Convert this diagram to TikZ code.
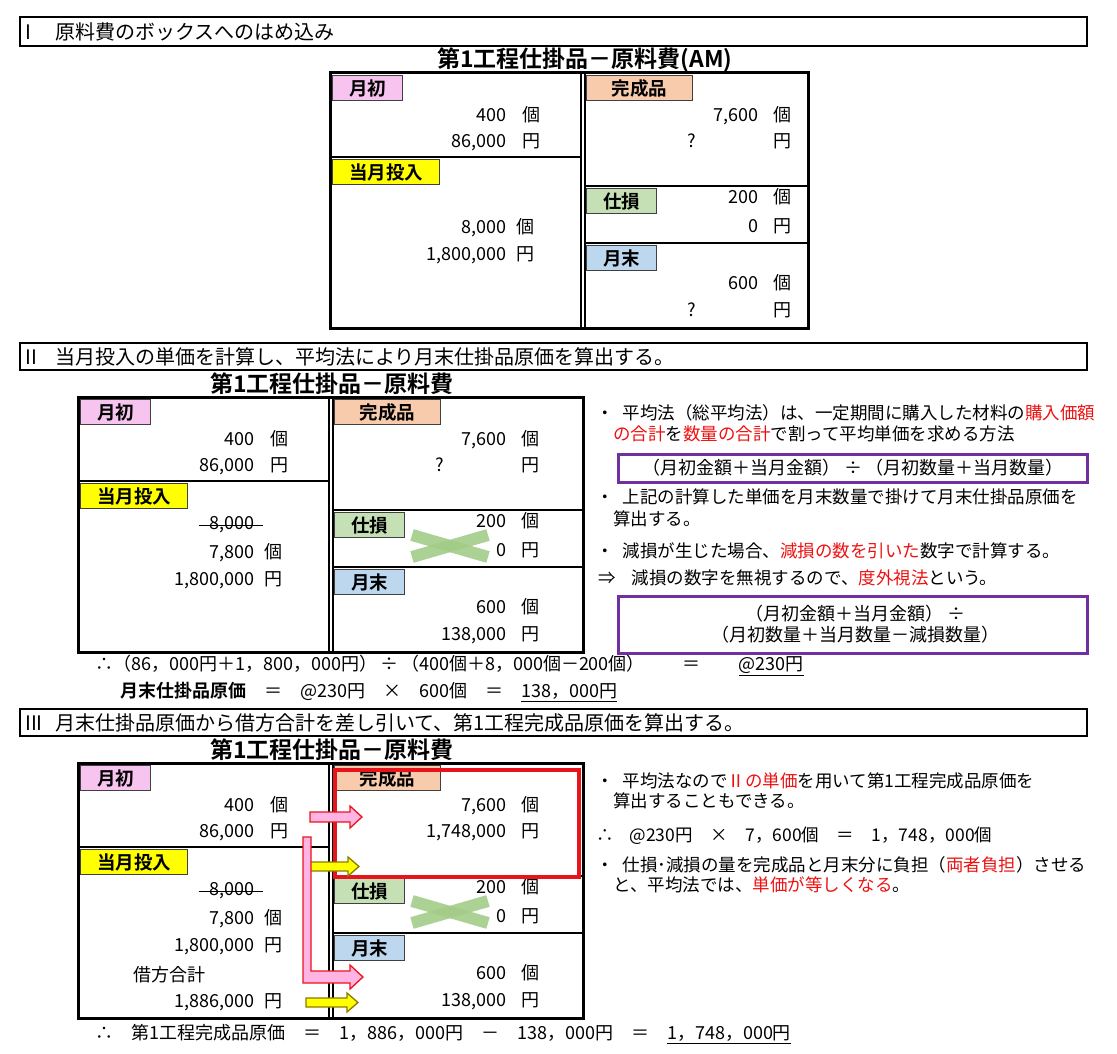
\documentclass[tikz,border=0pt]{standalone}
\usepackage{fontspec}
\setmainfont{Noto Sans CJK JP}[BoldFont={Noto Sans CJK JP Bold}]
\definecolor{tagpink}{HTML}{F7C4F0}
\definecolor{tagyellow}{HTML}{FFFF00}
\definecolor{tagpeach}{HTML}{F8CBAD}
\definecolor{taggreen}{HTML}{C5E0B4}
\definecolor{tagblue}{HTML}{BDD7EE}
\definecolor{hlred}{HTML}{EE1111}
\definecolor{rulepurple}{HTML}{7030A0}
\definecolor{lossgreen}{HTML}{A3CC88}
\definecolor{flowpink}{HTML}{FFB4E4}
\definecolor{flowred}{HTML}{E8141B}
\definecolor{flowolive}{HTML}{8C7A00}
\tikzset{
  frame/.style={line width=3pt},
  rule/.style={line width=1.3pt},
  tag/.style={rectangle,draw=black!75,line width=1pt,anchor=north west,
              minimum height=25pt,inner sep=0pt,
              font=\bfseries\fontsize{18.5}{18.5}\selectfont},
  num/.style={anchor=east,inner sep=0pt,text height=13pt,text depth=3.5pt,
              font=\fontsize{18}{18}\selectfont},
  unit/.style={num,anchor=west},
  qmark/.style={num,anchor=center},
  note/.style={anchor=west,inner sep=0pt,text height=13pt,text depth=3.5pt,
               font=\fontsize{17.5}{17.5}\selectfont},
  calc/.style={note,font=\fontsize{18}{18}\selectfont},
  headbar/.style={draw,line width=1.4pt},
  headtext/.style={anchor=west,inner sep=0pt,font=\fontsize{20}{20}\selectfont},
  boxtitle/.style={inner sep=0pt,font=\bfseries\fontsize{23}{23}\selectfont},
  rulebox/.style={draw=rulepurple,line width=3pt},
  ruletext/.style={inner sep=0pt,align=center,font=\fontsize{18}{21}\selectfont},
  lossmark/.style={draw=lossgreen,line width=12pt,opacity=0.9},
  strike/.style={line width=1pt},
  pinkflow/.style={fill=flowpink,draw=flowred,line width=1.3pt},
  yellowflow/.style={fill=tagyellow,draw=flowolive,line width=1.3pt},
  donebox/.style={draw=flowred,line width=4pt},
  pics/wipbox/.style={code={
    \draw[rule] (0,84) -- (251,84);
    \draw[rule] (255,113) -- (#1,113);
    \draw[rule] (255,170) -- (#1,170);
    \draw[rule] (251,0) -- (251,255);
    \draw[rule] (255,0) -- (255,255);
    \draw[frame] (0,0) rectangle (#1,255);
    \node[tag,fill=tagpink,minimum width=70pt]    (-beg) at (2,2)     {月初};
    \node[tag,fill=tagyellow,minimum width=107pt] (-inp) at (2,86)    {当月投入};
    \node[tag,fill=tagpeach,minimum width=106pt]  (-fin) at (256,2)   {完成品};
    \node[tag,fill=taggreen,minimum width=70pt]   (-spo) at (256,115) {仕損};
    \node[tag,fill=tagblue,minimum width=70pt]    (-end) at (256,172) {月末};
  }},
}

\begin{document}
\begin{tikzpicture}[x=1pt,y=-1pt]
  \useasboundingbox (0,0) rectangle (1117,1054);

  % I
  \draw[headbar] (20,17) rectangle (1087,46);
  \node[headtext] (sec1) at (25,31.5) {\makebox[30pt][l]{I}原料費のボックスへのはめ込み};
  \node[boxtitle] (title1) at (585,60) {第1工程仕掛品－原料費(AM)};

  \pic (b1) at (330,73) {wipbox=478};
  \begin{scope}[shift={(330,73)}]
    \node[num]   (b1-q1) at (177,44)  {400};
    \node[unit]  (b1-k1) at (192,44)  {個};
    \node[num]   (b1-a1) at (177,70)  {86,000};
    \node[unit]  (b1-y1) at (192,70)  {円};
    \node[num]   (b1-q2) at (177,156) {8,000};
    \node[unit]  (b1-k2) at (186,156) {個};
    \node[num]   (b1-a2) at (177,183) {1,800,000};
    \node[unit]  (b1-y2) at (186,183) {円};
    \node[num]   (b1-q3) at (429,44)  {7,600};
    \node[unit]  (b1-k3) at (443,44)  {個};
    \node[qmark] (b1-a3) at (362,70)  {?};
    \node[unit]  (b1-y3) at (443,70)  {円};
    \node[num]   (b1-q4) at (429,126) {200};
    \node[unit]  (b1-k4) at (443,126) {個};
    \node[num]   (b1-a4) at (429,155) {0};
    \node[unit]  (b1-y4) at (443,155) {円};
    \node[num]   (b1-q5) at (429,212) {600};
    \node[unit]  (b1-k5) at (443,212) {個};
    \node[qmark] (b1-a5) at (362,239) {?};
    \node[unit]  (b1-y5) at (443,239) {円};
  \end{scope}

  % II
  \draw[headbar] (20,343) rectangle (1087,370);
  \node[headtext] (sec2) at (25,356.5) {\makebox[30pt][l]{II}当月投入の単価を計算し、平均法により月末仕掛品原価を算出する。};
  \node[boxtitle] (title2) at (332,384) {第1工程仕掛品－原料費};

  \pic (b2) at (78,397) {wipbox=505};
  \begin{scope}[shift={(78,397)}]
    \node[num]   (b2-q1) at (177,44)  {400};
    \node[unit]  (b2-k1) at (192,44)  {個};
    \node[num]   (b2-a1) at (177,70)  {86,000};
    \node[unit]  (b2-y1) at (192,70)  {円};
    \node[num]   (b2-q0) at (177,128) {8,000};
    \draw[strike] ([xshift=-11pt]b2-q0.west) -- ([xshift=8pt]b2-q0.east);
    \node[num]   (b2-q2) at (177,157) {7,800};
    \node[unit]  (b2-k2) at (186,157) {個};
    \node[num]   (b2-a2) at (177,184) {1,800,000};
    \node[unit]  (b2-y2) at (186,184) {円};
    \node[num]   (b2-q3) at (429,44)  {7,600};
    \node[unit]  (b2-k3) at (443,44)  {個};
    \node[qmark] (b2-a3) at (362,70)  {?};
    \node[unit]  (b2-y3) at (443,70)  {円};
    \node[num]   (b2-q4) at (429,126) {200};
    \node[unit]  (b2-k4) at (443,126) {個};
    \node[num]   (b2-a4) at (429,155) {0};
    \node[unit]  (b2-y4) at (443,155) {円};
    \draw[lossmark] (334,138) -- (410,160);
    \draw[lossmark] (334,160) -- (410,138);
    \node[num]   (b2-q5) at (429,212) {600};
    \node[unit]  (b2-k5) at (443,212) {個};
    \node[num]   (b2-a5) at (429,239) {138,000};
    \node[unit]  (b2-y5) at (443,239) {円};
  \end{scope}

  \node[note] (n21) at (596,415) {・\hspace{9pt}平均法（総平均法）は、一定期間に購入した材料の\textcolor{hlred}{購入価額}};
  \node[note] (n22) at (613,436) {\textcolor{hlred}{の合計}を\textcolor{hlred}{数量の合計}で割って平均単価を求める方法};
  \draw[rulebox] (618,454) rectangle (1087,482);
  \node[ruletext] (r1) at (853,468) {（月初金額＋当月金額）\hspace{4pt}÷\hspace{4pt}（月初数量＋当月数量）};
  \node[note] (n23) at (596,499) {・\hspace{9pt}上記の計算した単価を月末数量で掛けて月末仕掛品原価を};
  \node[note] (n24) at (613,521) {算出する。};
  \node[note] (n25) at (596,553) {・\hspace{9pt}減損が生じた場合、\textcolor{hlred}{減損の数を引いた}数字で計算する。};
  \node[note] (n26) at (598,580) {⇒\hspace{16pt}減損の数字を無視するので、\textcolor{hlred}{度外視法}という。};
  \draw[rulebox] (618,596) rectangle (1087,653);
  \node[ruletext] (r2) at (855,624) {（月初金額＋当月金額）\hspace{4pt}÷\\（月初数量＋当月数量－減損数量）};

  \node[calc] (f1) at (95,666) {∴（86，000円＋1，800，000円）\hspace{3pt}÷\hspace{3pt}（400個＋8，000個－200個）\hspace{38pt}＝\hspace{38pt}\underline{@230円}};
  \node[calc] (f2) at (120,693) {\textbf{月末仕掛品原価}　＝　@230円　×　600個　＝　\underline{138，000円}};

  % III
  \draw[headbar] (20,709) rectangle (1087,736);
  \node[headtext] (sec3) at (25,722.5) {\makebox[30pt][l]{III}月末仕掛品原価から借方合計を差し引いて、第1工程完成品原価を算出する。};
  \node[boxtitle] (title3) at (332,750) {第1工程仕掛品－原料費};

  \pic (b3) at (78,763) {wipbox=505};
  \begin{scope}[shift={(78,763)}]
    \node[num]   (b3-q1) at (177,44)  {400};
    \node[unit]  (b3-k1) at (192,44)  {個};
    \node[num]   (b3-a1) at (177,70)  {86,000};
    \node[unit]  (b3-y1) at (192,70)  {円};
    \node[num]   (b3-q0) at (177,128) {8,000};
    \draw[strike] ([xshift=-11pt]b3-q0.west) -- ([xshift=8pt]b3-q0.east);
    \node[num]   (b3-q2) at (177,157) {7,800};
    \node[unit]  (b3-k2) at (186,157) {個};
    \node[num]   (b3-a2) at (177,184) {1,800,000};
    \node[unit]  (b3-y2) at (186,184) {円};
    \node[unit]  (b3-dr) at (55,214)  {借方合計};
    \node[num]   (b3-a6) at (177,240) {1,886,000};
    \node[unit]  (b3-y6) at (186,240) {円};
    \node[num]   (b3-q3) at (429,44)  {7,600};
    \node[unit]  (b3-k3) at (443,44)  {個};
    \node[num]   (b3-a3) at (429,70)  {1,748,000};
    \node[unit]  (b3-y3) at (443,70)  {円};
    \node[num]   (b3-q4) at (429,126) {200};
    \node[unit]  (b3-k4) at (443,126) {個};
    \node[num]   (b3-a4) at (429,155) {0};
    \node[unit]  (b3-y4) at (443,155) {円};
    \draw[lossmark] (334,138) -- (410,160);
    \draw[lossmark] (334,160) -- (410,138);
    \node[num]   (b3-q5) at (429,212) {600};
    \node[unit]  (b3-k5) at (443,212) {個};
    \node[num]   (b3-a5) at (429,239) {138,000};
    \node[unit]  (b3-y5) at (443,239) {円};
    \draw[donebox] (257,7) rectangle (501,114);
    % flows into the credit side
    \draw[pinkflow] (232,49) -- (272,49) -- (272,43) -- (284,54) -- (272,65)
                    -- (272,59) -- (232,59) -- cycle;
    \draw[yellowflow] (232,99) -- (270,99) -- (270,94) -- (281,103.5) -- (270,113)
                      -- (270,108) -- (232,108) -- cycle;
    \draw[pinkflow] (225,74) -- (233,74) -- (233,208) -- (272,208) -- (272,202)
                    -- (285,214) -- (272,226) -- (272,220) -- (225,220) -- cycle;
    \draw[yellowflow] (228,235) -- (269,235) -- (269,230) -- (280,239.5) -- (269,249)
                      -- (269,244) -- (228,244) -- cycle;
  \end{scope}

  \node[note] (n31) at (596,783) {・\hspace{9pt}平均法なので\textcolor{hlred}{Ⅱの単価}を用いて第1工程完成品原価を};
  \node[note] (n32) at (613,803) {算出することもできる。};
  \node[note] (n33) at (596,837) {∴\hspace{16pt}@230円　×　7，600個　＝　1，748，000個};
  \node[note] (n34) at (596,867) {・\hspace{9pt}仕損･減損の量を完成品と月末分に負担（\textcolor{hlred}{両者負担}）させる};
  \node[note] (n35) at (613,887) {と、平均法では、\textcolor{hlred}{単価が等しくなる}。};

  \node[calc] (f3) at (95,1035) {∴　第1工程完成品原価　＝　1，886，000円　－　138，000円　＝　\underline{1，748，000円}};
\end{tikzpicture}
\end{document}
